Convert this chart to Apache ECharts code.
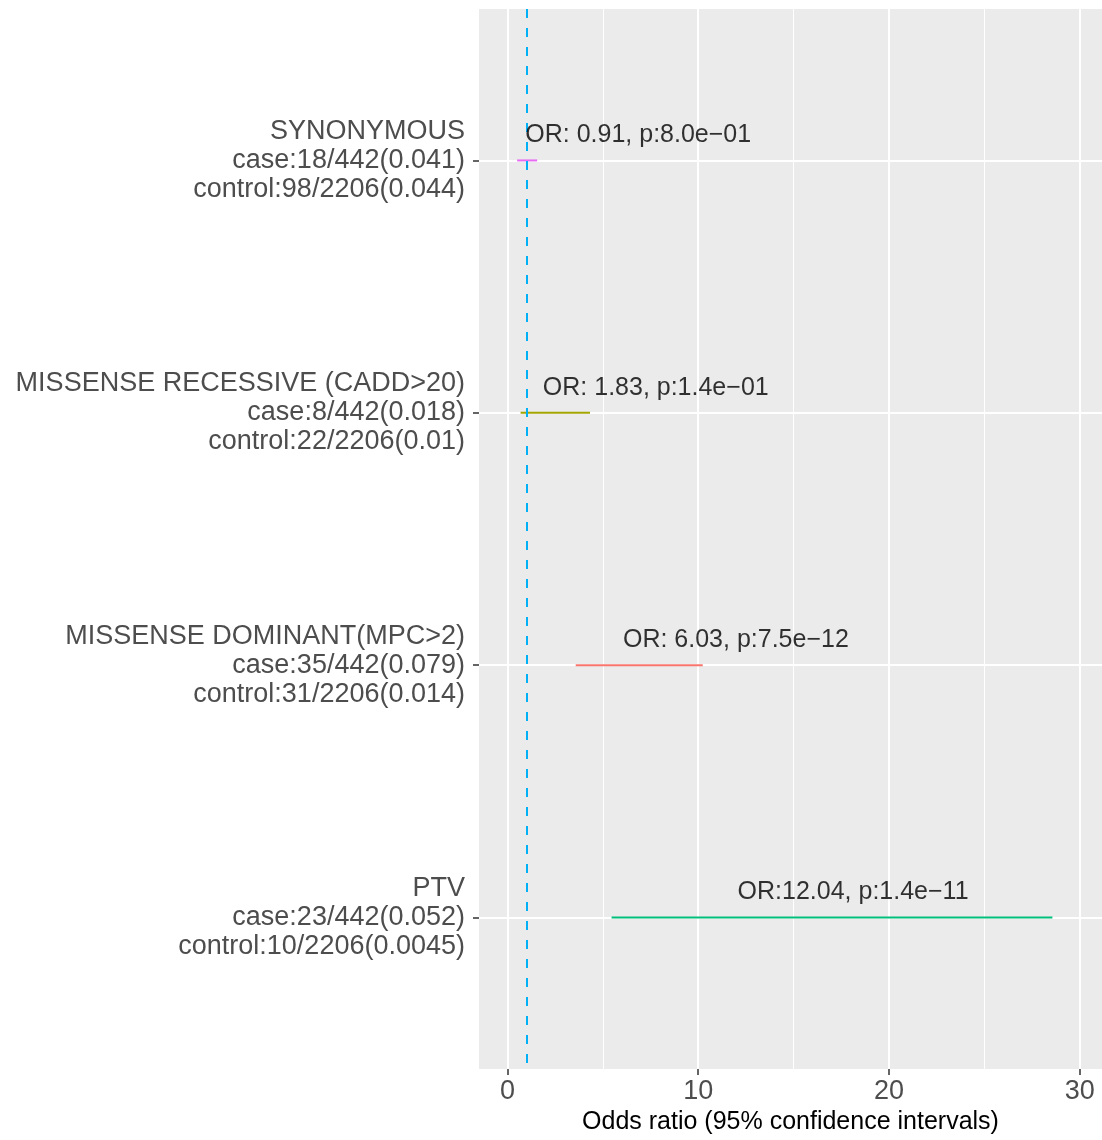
<!DOCTYPE html>
<html><head><meta charset="utf-8">
<script src="https://cdn.jsdelivr.net/npm/echarts@6/dist/echarts.min.js"></script>
<style>html,body{margin:0;padding:0;background:#fff}#c{width:1102px;height:1140px}</style>
</head><body><div id="c"></div>
<script>
const categories = ['SYNONYMOUS', 'MISSENSE RECESSIVE (CADD>20)', 'MISSENSE DOMINANT(MPC>2)', 'PTV'];
const caseCounts = ['case:18/442(0.041)', 'case:8/442(0.018)', 'case:35/442(0.079)', 'case:23/442(0.052)'];
const controlCounts = ['control:98/2206(0.044)', 'control:22/2206(0.01)', 'control:31/2206(0.014)', 'control:10/2206(0.0045)'];
const oddsRatios = [0.91, 1.83, 6.03, 12.04];
const ciLower = [0.51, 0.69, 3.58, 5.46];
const ciUpper = [1.56, 4.33, 10.24, 28.57];
const pValues = ['8.0e\u221201', '1.4e\u221201', '7.5e\u221212', '1.4e\u221211'];
const xTicks = [0, 10, 20, 30];
const xMinorTicks = [5, 15, 25];
const referenceOR = 1;
const colors = ['#E76BF3', '#A3A500', '#F8766D', '#00BF7D'];

const FONT = '"Liberation Sans", Arial, sans-serif';
const idx = categories.map((c, i) => i);

const errorSeries = categories.map((c, i) => ({
  type: 'line', name: c, z: 2, silent: true, symbol: 'none',
  lineStyle: { color: colors[i], width: 2 },
  data: [[ciLower[i], i], [ciUpper[i], i]]
}));

const chart = echarts.init(document.getElementById('c'), null, { renderer: 'canvas' });
chart.setOption({
  animation: false,
  grid: { left: 479, right: 0, top: 9, bottom: 68, show: true, backgroundColor: '#EBEBEB', borderWidth: 0 },
  xAxis: {
    type: 'value', min: -1.49, max: 31.17, position: 'bottom',
    name: 'Odds ratio (95% confidence intervals)', nameLocation: 'middle', nameGap: 41,
    nameTextStyle: { fontFamily: FONT, fontSize: 25, color: '#000', lineHeight: 25 },
    axisLine: { show: false, onZero: false },
    axisTick: { show: true, length: 6, customValues: xTicks, lineStyle: { color: '#333333', width: 1.5 } },
    axisLabel: { customValues: xTicks, margin: 9, fontFamily: FONT, fontSize: 27, color: '#4D4D4D', lineHeight: 27 },
    splitLine: { show: true, lineStyle: { color: '#FFFFFF', width: 2 } },
    minorSplitLine: { show: false }
  },
  yAxis: {
    type: 'value', min: -0.6, max: 3.6, inverse: true, position: 'left',
    axisLine: { show: false, onZero: false },
    axisTick: { show: true, length: 6, customValues: idx, lineStyle: { color: '#333333', width: 1.5 } },
    axisLabel: {
      customValues: idx, margin: 14, fontFamily: FONT, fontSize: 27, color: '#4D4D4D', lineHeight: 29, align: 'right',
      padding: [5, 0, 0, 0],
      formatter: v => {
        const i = Math.round(v);
        return categories[i] + '\n' + caseCounts[i] + '\n' + controlCounts[i];
      }
    },
    splitLine: { show: true, lineStyle: { color: '#FFFFFF', width: 2 } }
  },
  series: [
    {
      type: 'line', data: [], silent: true, z: 1,
      markLine: {
        silent: true, z: 1, symbol: 'none', label: { show: false },
        lineStyle: { color: '#FFFFFF', width: 1, type: 'solid' },
        data: xMinorTicks.map(v => ({ xAxis: v }))
      }
    },
    ...errorSeries,
    {
      type: 'line', data: [], silent: true, z: 3,
      markLine: {
        silent: true, z: 3, symbol: 'none', label: { show: false },
        lineStyle: { color: '#00B0F6', width: 2, type: [9, 10] },
        data: [{ xAxis: referenceOR }]
      }
    },
    {
      type: 'scatter', z: 6, silent: true, symbolSize: 1,
      itemStyle: { color: 'rgba(0,0,0,0)' },
      data: oddsRatios.map((v, i) => [v, i]),
      label: {
        show: true, position: 'right', distance: 0, offset: [0, -25],
        fontFamily: FONT, fontSize: 25, color: '#000',
        formatter: p => {
          const i = p.dataIndex;
          return 'OR:' + oddsRatios[i].toFixed(2).padStart(5, ' ') + ', p:' + pValues[i];
        }
      }
    }
  ]
});
</script></body></html>
